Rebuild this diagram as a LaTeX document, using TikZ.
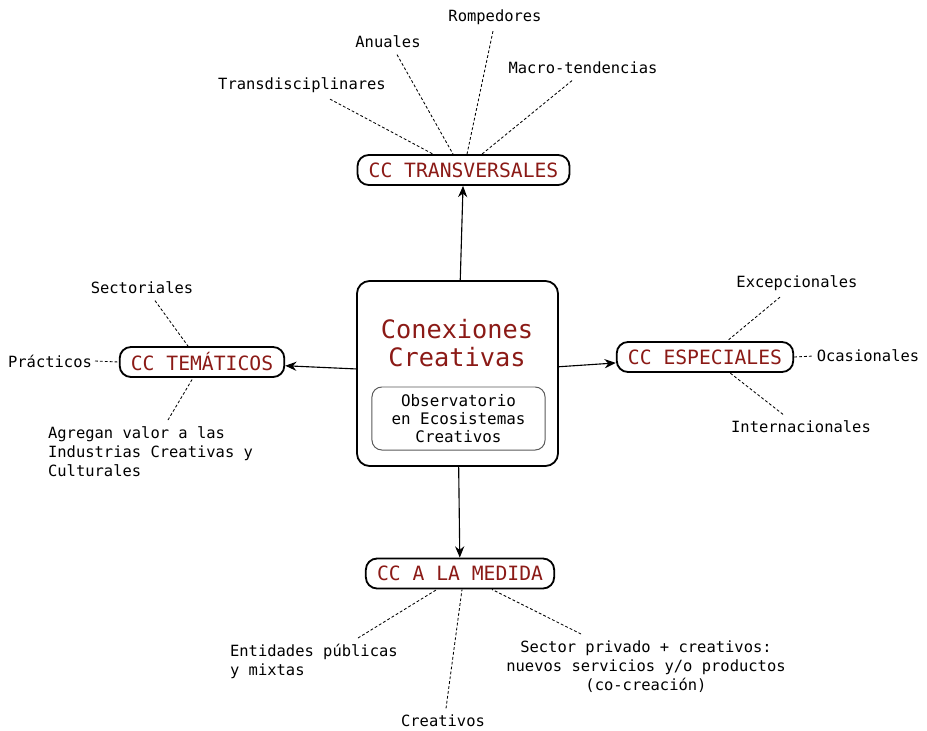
\documentclass[tikz,border=0pt]{standalone}
\usepackage{fontspec}
\setmainfont{DejaVu Sans Mono}
\usepackage{xcolor}
\usetikzlibrary{arrows.meta,positioning}

\definecolor{ccred}{RGB}{139,26,22}

\begin{document}
\begin{tikzpicture}[
  % --- global style ---
  x=0.025cm, y=-0.025cm,
  >=Stealth,
  every node/.style={font=\fontsize{11}{13.5}\selectfont},
  hub/.style={
    draw, line width=1.3pt, rounded corners=9pt,
    minimum width=5.025cm, minimum height=4.625cm
  },
  ccbox/.style={
    draw, line width=1.3pt, rounded corners=8pt, fill=white,
    minimum height=0.75cm, inner xsep=0.28cm,
    text=ccred, font=\fontsize{14}{16}\selectfont
  },
  leaf/.style={inner xsep=2pt, inner ysep=4.5pt},
  arr/.style={-{Stealth[length=8pt,width=6.5pt]}, line width=0.8pt},
  dline/.style={dash pattern=on 2pt off 1.5pt, line width=0.6pt},
]
\useasboundingbox (0,0) rectangle (927,730);

% ====== Centre ======
\node[hub] (cc) at (457.5,373.5) {};
\node[text=ccred, align=center, font=\fontsize{18}{20}\selectfont]
  (title) at (457,343) {Conexiones\\Creativas};
\node[draw=black!65, line width=0.7pt, rounded corners=7pt,
      minimum width=4.325cm, minimum height=1.575cm, align=center,
      font=\fontsize{11.3}{13.1}\selectfont]
  (obs) at (458.5,418.5) {Observatorio\\en Ecosistemas\\Creativos};

% ====== Four branches ======
\node[ccbox] (trans) at (463.5,170) {CC TRANSVERSALES};
\node[ccbox] (tem)   at (202,362)   {CC TEMÁTICOS};
\node[ccbox] (esp)   at (705,357)   {CC ESPECIALES};
\node[ccbox] (med)   at (460,573.5) {CC A LA MEDIDA};

\draw[arr] (cc) -- (trans);
\draw[arr] (cc) -- (tem);
\draw[arr] (cc) -- (esp);
\draw[arr] (cc) -- (med);

% ====== Leaves: transversales ======
\node[leaf] (transd) at (302,85)  {Transdisciplinares};
\node[leaf] (anual)  at (388,42)  {Anuales};
\node[leaf] (romp)   at (495,17)  {Rompedores};
\node[leaf] (macro)  at (583,68)  {Macro-tendencias};

\draw[dline] (transd.south -| 330,0) -- (trans.north -| 433,0);
\draw[dline] (anual.south -| 397,0)  -- (trans.north -| 453,0);
\draw[dline] (romp.south -| 493,0)   -- (trans.north -| 467,0);
\draw[dline] (macro.south -| 572,0)  -- (trans.north -| 482,0);

% ====== Leaves: tematicos ======
\node[leaf] (sect)  at (142,288) {Sectoriales};
\node[leaf] (pract) at (50,361)  {Prácticos};
\node[leaf, anchor=north west, align=left] (agreg) at (45,420)
  {Agregan valor a las\\Industrias Creativas y\\Culturales};

\draw[dline] (sect.south -| 155,0) -- (tem.north -| 188,0);
\draw[dline] (pract.east) -- (tem.west);
\draw[dline] (agreg.north -| 168,0) -- (tem.south -| 193,0);

% ====== Leaves: especiales ======
\node[leaf] (excep)  at (797,283) {Excepcionales};
\node[leaf] (ocas)   at (868,356) {Ocasionales};
\node[leaf] (intern) at (801,427) {Internacionales};

\draw[dline] (excep.south -| 780,0) -- (esp.north -| 727,0);
\draw[dline] (esp.east) -- (ocas.west);
\draw[dline] (intern.north -| 783,0) -- (esp.south -| 730,0);

% ====== Leaves: a la medida ======
\node[leaf, anchor=north west, align=left] (entid) at (227,638)
  {Entidades públicas\\y mixtas};
\node[leaf] (creat) at (443,721) {Creativos};
\node[leaf, anchor=north, align=center] (sector) at (646,634)
  {Sector privado + creativos:\\nuevos servicios y/o productos\\(co-creación)};

\draw[dline] (entid.north -| 358,0)  -- (med.south -| 437,0);
\draw[dline] (creat.north -| 446,0)  -- (med.south -| 462,0);
\draw[dline] (sector.north -| 581,0) -- (med.south -| 492,0);

\end{tikzpicture}
\end{document}
